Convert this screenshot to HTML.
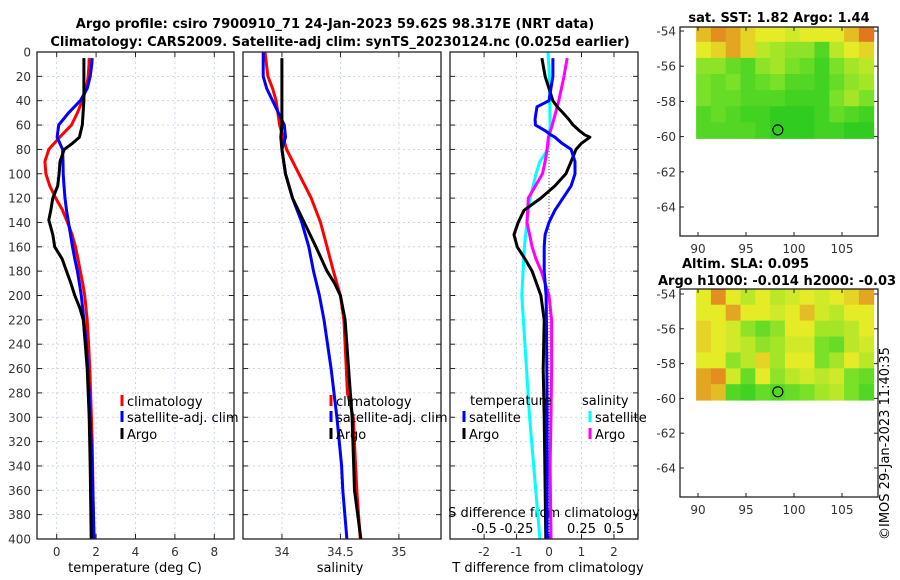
<!DOCTYPE html>
<html><head><meta charset="utf-8"><style>
body{margin:0;background:#fff;}
svg{display:block;font-family:"DejaVu Sans","Liberation Sans",sans-serif;}
.tk{font-size:12px;fill:#333;}
.tt{font-size:13px;font-weight:bold;fill:#000;}
.lg{font-size:13px;fill:#000;}
</style></head><body>
<svg id="c" width="900" height="580" viewBox="0 0 900 580">
<text class="tt" x="335" y="28" text-anchor="middle">Argo profile: csiro 7900910_71 24-Jan-2023 59.62S 98.317E (NRT data)</text>
<text class="tt" x="340" y="46" text-anchor="middle">Climatology: CARS2009. Satellite-adj clim: synTS_20230124.nc (0.025d earlier)</text>
<text class="tt" x="779" y="22" text-anchor="middle">sat. SST: 1.82 Argo: 1.44</text>
<text class="tt" x="682" y="268">Altim. SLA: 0.095</text>
<text class="tt" x="658" y="285">Argo h1000: -0.014 h2000: -0.03</text>
<text class="lg" x="0" y="0" transform="translate(889,540) rotate(-90)">©IMOS 29-Jan-2023 11:40:35</text>
<g id="g"></g>
</svg>
<script>
// ---- profile data ----
const depthT=[5,10,20,30,40,50,60,70,80,90,100,110,120,130,140,150,160,170,180,190,200,220,240,260,280,300,320,340,360,380,400];
const tempClim=[1.65,1.64,1.6,1.5,1.3,1.05,0.75,0.15,-0.4,-0.6,-0.55,-0.35,-0.05,0.3,0.55,0.78,0.95,1.08,1.2,1.32,1.42,1.55,1.62,1.68,1.72,1.76,1.8,1.82,1.84,1.86,1.87];
const tempSat=[1.8,1.78,1.7,1.55,1.2,0.6,0.1,0.02,0.3,0.32,0.33,0.37,0.42,0.5,0.6,0.7,0.8,0.92,1.05,1.15,1.25,1.38,1.5,1.58,1.65,1.7,1.75,1.8,1.84,1.87,1.9];
const depthA=[5,20,40,60,70,75,80,90,100,110,120,130,138,150,160,170,180,190,200,210,220,240,260,280,300,340,400];
const tempArgo=[1.38,1.38,1.38,1.3,1.15,0.8,0.38,0.17,0.12,0.05,-0.2,-0.3,-0.4,-0.2,-0.1,0.28,0.5,0.72,0.92,1.17,1.35,1.45,1.55,1.6,1.65,1.7,1.75];
const depthS=[0,20,30,40,50,60,70,80,100,120,140,160,180,200,220,260,280,300,340,360,400];
const salClim=[33.855,33.88,33.92,33.95,33.965,33.98,34.01,34.04,34.145,34.25,34.33,34.385,34.44,34.5,34.53,34.55,34.56,34.61,34.63,34.64,34.67];
const salSat=[33.84,33.84,33.87,33.92,33.97,34.02,34.03,34.0,34.03,34.09,34.17,34.23,34.27,34.32,34.36,34.42,34.445,34.47,34.51,34.52,34.555];
const depthSA=[5,60,70,80,100,120,140,160,180,190,200,220,260,300,360,400];
const salArgo=[34.0,34.0,33.99,34.0,34.03,34.09,34.19,34.29,34.385,34.45,34.5,34.54,34.57,34.6,34.62,34.675];
const depthD=[5,20,40,45,50,55,60,65,68,70,75,80,90,100,110,120,130,140,150,160,170,180,200,220,260,300,400];
const tdiffArgo=[-0.22,-0.12,0.12,0.25,0.43,0.6,0.74,0.95,1.1,1.26,1.0,0.83,0.68,0.52,0.18,-0.25,-0.77,-0.95,-1.08,-0.98,-0.74,-0.52,-0.25,-0.15,-0.18,-0.15,-0.1];
const tdiffSat=[0.12,0.12,0,-0.37,-0.4,-0.43,-0.42,-0.1,0.05,0.18,0.4,0.68,0.8,0.8,0.68,0.43,0.18,0,-0.12,-0.15,-0.15,-0.15,-0.09,-0.08,-0.07,-0.06,-0.06];
const depthSD=[0,20,40,60,70,80,90,100,120,140,160,200,300,400];
const sdiffSat=[-0.008,0.003,0.005,0.008,0.003,-0.01,-0.07,-0.1,-0.145,-0.17,-0.19,-0.21,-0.15,-0.07];
const depthSD2=[5,20,40,60,70,80,90,100,120,140,150,160,170,180,190,200,220,260,300,340,400];
const sdiffArgo=[0.14,0.115,0.075,0.025,-0.005,-0.015,-0.03,-0.05,-0.16,-0.17,-0.15,-0.13,-0.1,-0.06,-0.03,0,0.02,0.02,0.015,0.008,0.015];
const depthTicks=[0,20,40,60,80,100,120,140,160,180,200,220,240,260,280,300,320,340,360,380,400];
const tTicks=[0,2,4,6,8], sTicks=[34,34.5,35], dTicks=[-2,-1,0,1,2], sdTicks=[-0.5,-0.25,0,0.25,0.5];
const sdTickLabels=["-0.5","-0.25","0","0.25","0.5"];
// ---- map data (0 green .. 1 yellow .. 1.5 orange) ----
const sstGrid=[[1.2,1.4,1.3,1.1,1.0,1.0,0.9,1.0,1.0,1.0,1.2,1.5],[1.0,1.1,1.3,1.1,0.8,0.7,0.6,0.6,0.3,0.8,1.0,1.1],[0.6,0.6,0.4,0.3,0.6,0.7,0.5,0.4,0.2,0.5,0.7,0.8],[0.5,0.4,0.5,0.3,0.4,0.5,0.3,0.3,0.2,0.4,0.6,0.7],[0.5,0.4,0.4,0.3,0.3,0.3,0.2,0.2,0.2,0.5,0.7,0.5],[0.3,0.4,0.3,0.2,0.2,0.1,0.1,0.1,0.2,0.4,0.3,0.2],[0.3,0.3,0.3,0.3,0.2,0.1,0.1,0.1,0.2,0.2,0.1,0.1]];
const slaGrid=[[1.0,1.4,1.0,0.8,1.0,0.8,0.9,1.0,0.9,1.0,1.1,1.3],[1.0,1.0,1.3,1.0,1.0,0.9,1.0,1.2,0.9,0.8,1.0,1.0],[1.1,1.0,0.9,0.6,0.4,0.6,1.0,1.0,0.7,0.7,0.8,1.0],[1.1,1.0,0.9,0.8,0.6,0.7,0.9,0.9,0.5,0.4,0.8,0.9],[1.0,1.0,0.6,0.8,1.1,0.7,1.0,1.0,0.5,0.7,1.0,0.8],[1.3,1.4,0.9,0.4,1.0,0.6,0.8,0.9,0.8,0.9,0.5,0.4],[1.3,1.2,0.3,0.2,0.4,0.3,0.4,0.5,0.7,0.8,0.5,0.3]];
const latTicks=[-54,-56,-58,-60,-62,-64], lonTicks=[90,95,100,105];
const argoLon=98.317, argoLat=-59.62;

const NS="http://www.w3.org/2000/svg", G=document.getElementById('g');
function el(t,a,p){const e=document.createElementNS(NS,t);for(const k in a)e.setAttribute(k,a[k]);(p||G).appendChild(e);return e;}
const Y0=52,Y1=539;
const yD=d=>Y0+(d/400)*(Y1-Y0);
function panel(name,x0,x1,dmin,dmax){
  const sx=v=>x0+(v-dmin)/(dmax-dmin)*(x1-x0);
  return {x0,x1,sx,name};
}
const P1=panel('temperature',37,234,-1,9), P2=panel('salinity',243,441,33.667,35.36), P3=panel('difference',450,638,-3.05,2.74);
const GRID={stroke:'#c4cbe6','stroke-width':0.8,'stroke-dasharray':'2,3'};
function frame(P,xt,labels,showY){
  const g=el('g',{});
  
  
  xt.forEach(v=>{const x=P.sx(v);const l=el('line',Object.assign({x1:x,x2:x,y1:Y0,y2:Y1},GRID),g);});
  depthTicks.forEach(d=>{const y=yD(d);if(d>0&&d<400){const l=el('line',Object.assign({x1:P.x0,x2:P.x1,y1:y,y2:y},GRID),g);}
    el('line',{x1:P.x0,x2:P.x0+5,y1:y,y2:y,stroke:'#222'},g);el('line',{x1:P.x1-5,x2:P.x1,y1:y,y2:y,stroke:'#222'},g);
    if(showY){const t=el('text',{x:P.x0-6,y:y+4.5,'text-anchor':'end',class:'tk'},g);t.textContent=d;}});
  xt.forEach((v,i)=>{const x=P.sx(v);el('line',{x1:x,x2:x,y1:Y1,y2:Y1-5,stroke:'#222'},g);el('line',{x1:x,x2:x,y1:Y0,y2:Y0+5,stroke:'#222'},g);
    const t=el('text',{x:x,y:556,'text-anchor':'middle',class:'tk'},g);t.textContent=labels[i];});
  return g;
}
function axbox(P){const r=el('rect',{x:P.x0,y:Y0,width:P.x1-P.x0,height:Y1-Y0,fill:'none',stroke:'#222','stroke-width':1.3});}
function line(P,xs,ds,col,name,conv){
  const pts=xs.map((v,i)=>P.sx(conv?conv(v):v).toFixed(1)+','+yD(ds[i]).toFixed(1)).join(' ');
  const p=el('polyline',{points:pts,fill:'none',stroke:col,'stroke-width':3,'stroke-linejoin':'round'});
  
  
}
function label(x,y,txt,name,anchor){const t=el('text',{x:x,y:y,class:'lg','text-anchor':anchor||'start'});t.textContent=txt;return t;}
frame(P1,tTicks,tTicks.map(String),true);
frame(P2,sTicks,sTicks.map(String),false);
frame(P3,dTicks,dTicks.map(String),false);
const zl=el('line',{x1:P3.sx(0),x2:P3.sx(0),y1:Y0,y2:Y1,stroke:'#555','stroke-width':1,'stroke-dasharray':'1,2'});


sdTicks.forEach((v,i)=>{const x=P3.sx(v*4);const t=el('text',{x:x,y:533,'text-anchor':'middle',class:'lg'});t.textContent=sdTickLabels[i];});
label(544,517,'S difference from climatology','sdiff-axis-title','middle');
line(P1,tempClim,depthT,'#f00','temp-climatology-line');
line(P1,tempSat,depthT,'#00f','temp-satellite-line');
line(P1,tempArgo,depthA,'#000','temp-argo-line');
line(P2,salClim,depthS,'#f00','sal-climatology-line');
line(P2,salSat,depthS,'#00f','sal-satellite-line');
line(P2,salArgo,depthSA,'#000','sal-argo-line');
line(P3,sdiffSat,depthSD,'#0ff','sdiff-satellite-line',v=>v*4);
line(P3,sdiffArgo,depthSD2,'#f0f','sdiff-argo-line',v=>v*4);
line(P3,tdiffArgo,depthD,'#000','tdiff-argo-line');
line(P3,tdiffSat,depthD,'#00f','tdiff-satellite-line');
[P1,P2,P3].forEach(axbox);
label(135,572,'temperature (deg C)','x-axis-title-temperature','middle');
label(340,572,'salinity','x-axis-title-salinity','middle');
label(548,572,'T difference from climatology','x-axis-title-tdiff','middle');
function leg(x,y,col,txt,name){const m=el('line',{x1:x,x2:x,y1:y-11,y2:y,stroke:col,'stroke-width':3});label(x+5,y,txt,name);}
leg(122,406,'#f00','climatology','legend-climatology');
leg(122,422,'#00f','satellite-adj. clim','legend-satellite');
leg(122,439,'#000','Argo','legend-argo');
leg(331,406,'#f00','climatology','legend-sal-climatology');
leg(331,422,'#00f','satellite-adj. clim','legend-sal-satellite');
leg(331,439,'#000','Argo','legend-sal-argo');
label(470,405,'temperature','legend-title-temperature');
leg(464,422,'#00f','satellite','legend-tdiff-satellite');
leg(464,439,'#000','Argo','legend-tdiff-argo');
label(582,405,'salinity','legend-title-salinity');
leg(590,422,'#0ff','satellite','legend-sdiff-satellite');
leg(590,439,'#f0f','Argo','legend-sdiff-argo');
function col(v){
  const c=[[0,[30,200,30]],[0.5,[120,225,40]],[1,[230,235,40]],[1.5,[225,120,30]]];
  v=Math.max(0,Math.min(1.5,v));
  for(let i=0;i<c.length-1;i++){if(v<=c[i+1][0]){const t=(v-c[i][0])/(c[i+1][0]-c[i][0]);const a=c[i][1],b=c[i+1][1];return 'rgb('+a.map((x,k)=>Math.round(x+(b[k]-x)*t)).join(',')+')';}}
}
function map(name,top,bot,lat54y,lat64y,grid){
  const L0=680,L1=878;
  const sx=lon=>698+(lon-90)*9.6;
  const sy=lat=>lat54y+(-54-lat)*(lat64y-lat54y)/10;
  const g=el('g',{});
  
  
  const lonA=89.8,lonB=108.3,latA=-53.7,latB=-60.1;
  const rows=grid.length,cols=grid[0].length;
  const cw=(lonB-lonA)/cols, ch=(latA-latB)/rows;
  grid.forEach((r,i)=>r.forEach((v,j)=>{
    const x=sx(lonA+j*cw),y=Math.max(top,sy(latA-i*ch));
    const c=el('rect',{x:x.toFixed(1),y:y.toFixed(1),width:(sx(lonA+(j+1)*cw)-x+0.5).toFixed(1),height:(sy(latA-(i+1)*ch)-y+0.5).toFixed(1),fill:col(v)},g);
    
    
  }));
  const ci=el('circle',{cx:sx(argoLon),cy:sy(argoLat),r:5,fill:'none',stroke:'#000','stroke-width':1.2},g);
  
  
  const b=el('rect',{x:L0,y:top,width:L1-L0,height:bot-top,fill:'none',stroke:'#222','stroke-width':1.3},g);
  
  
  latTicks.forEach(lt=>{const y=sy(lt);el('line',{x1:L0,x2:L0+4,y1:y,y2:y,stroke:'#222'},g);el('line',{x1:L1-4,x2:L1,y1:y,y2:y,stroke:'#222'},g);
    const t=el('text',{x:L0-4,y:y+4.5,'text-anchor':'end',class:'tk'},g);t.textContent=lt;});
  lonTicks.forEach(ln=>{const x=sx(ln);el('line',{x1:x,x2:x,y1:bot,y2:bot-4,stroke:'#222'},g);el('line',{x1:x,x2:x,y1:top,y2:top+4,stroke:'#222'},g);
    const t=el('text',{x:x,y:bot+17,'text-anchor':'middle',class:'tk'},g);t.textContent=ln;});
}
map('sst-map',27,236,31,207,sstGrid);
map('sla-map',289,497,294,468,slaGrid);
</script>
</body></html>
